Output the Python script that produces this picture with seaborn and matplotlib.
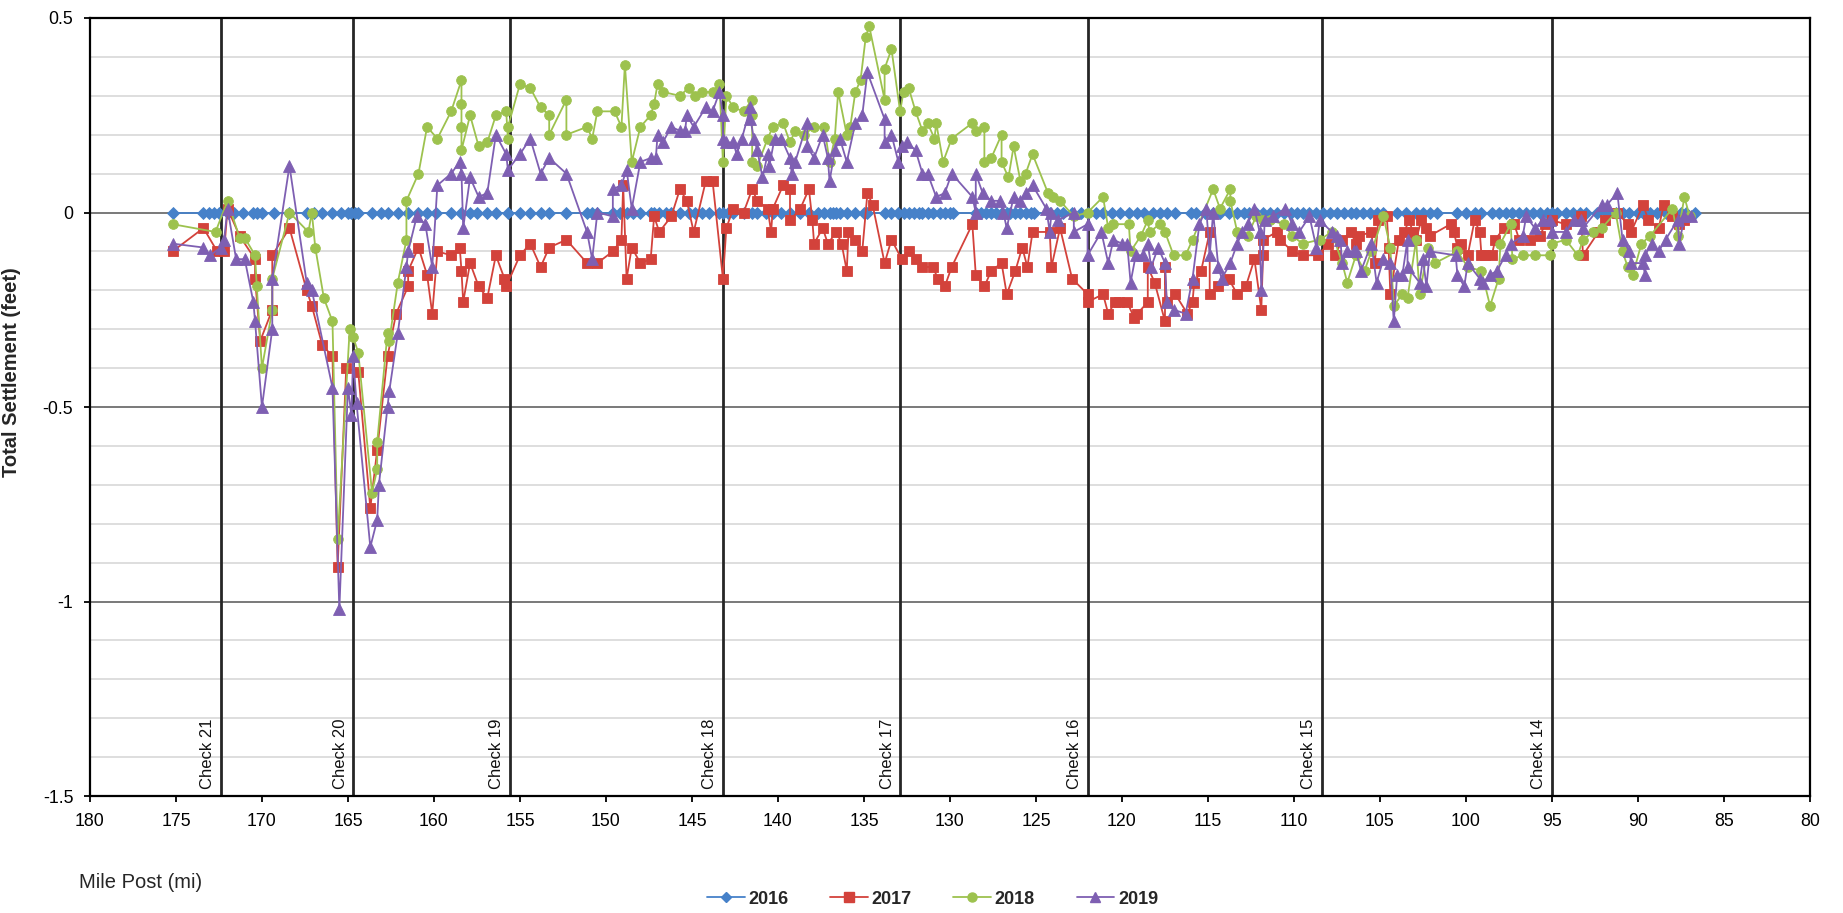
import numpy as np
import pandas as pd
import matplotlib
matplotlib.use("Agg")
import matplotlib.pyplot as plt
from matplotlib.lines import Line2D
from matplotlib.ticker import MultipleLocator, FuncFormatter
import seaborn as sns

# ---------------- data ----------------
years = ["2016", "2017", "2018", "2019"]

mile_2016 = [175.2, 173.4, 173.1, 172.8, 172.5, 172.0, 171.6, 171.1, 170.5, 170.3, 170.0, 169.3,
             168.4, 167.4, 167.0, 166.5, 165.9, 165.4, 165.0, 164.8, 164.6, 164.4, 163.6, 163.1,
             162.7, 162.1, 161.5, 160.9, 160.4, 159.9, 159.0, 158.4, 157.9, 157.5, 156.9, 156.4,
             155.7, 155.0, 154.4, 153.8, 153.3, 152.3, 151.1, 150.8, 150.5, 149.6, 149.2, 148.8,
             148.4, 148.0, 147.4, 147.2, 146.9, 146.5, 146.2, 145.7, 145.2, 144.8, 144.4, 144.0,
             143.4, 143.2, 142.9, 142.6, 142.0, 141.5, 141.2, 140.7, 140.3, 139.8, 139.3, 138.7,
             138.2, 137.7, 137.3, 137.0, 136.8, 136.6, 136.4, 136.0, 135.5, 135.0, 134.8, 133.8,
             133.4, 133.0, 132.7, 132.4, 132.1, 131.8, 131.6, 131.3, 131.0, 130.6, 130.3, 130.0,
             129.8, 128.5, 128.2, 127.9, 127.6, 127.3, 127.0, 126.7, 126.5, 126.2, 125.9, 125.6,
             125.3, 125.1, 124.2, 123.8, 123.4, 122.9, 122.4, 122.0, 121.5, 121.1, 120.6, 120.1,
             119.6, 119.1, 118.7, 118.2, 117.8, 117.4, 116.9, 116.0, 115.7, 115.2, 114.7, 114.3,
             113.8, 113.3, 112.9, 112.6, 112.2, 111.8, 111.4, 111.0, 110.6, 110.2, 109.8, 109.5,
             109.1, 108.7, 108.3, 107.9, 107.5, 107.1, 106.7, 106.4, 106.0, 105.6, 105.2, 104.8,
             104.0, 103.5, 102.9, 102.5, 102.1, 101.7, 100.5, 100.0, 99.5, 99.1, 98.5, 98.1,
             97.7, 97.3, 96.9, 96.5, 96.1, 95.7, 95.3, 95.0, 94.7, 94.2, 93.8, 93.4, 93.0, 92.4,
             91.8, 91.3, 90.9, 90.5, 90.0, 89.7, 89.3, 88.9, 88.4, 88.0, 87.5, 87.2, 86.7]
val_2016 = [0.0, 0.0, 0.0, 0.0, 0.0, 0.0, 0.0, 0.0, 0.0, 0.0, 0.0, 0.0, 0.0, 0.0, 0.0,
            0.0, 0.0, 0.0, 0.0, 0.0, 0.0, 0.0, 0.0, 0.0, 0.0, 0.0, 0.0, 0.0, 0.0, 0.0,
            0.0, 0.0, 0.0, 0.0, 0.0, 0.0, 0.0, 0.0, 0.0, 0.0, 0.0, 0.0, 0.0, 0.0, 0.0,
            0.0, 0.0, 0.0, 0.0, 0.0, 0.0, 0.0, 0.0, 0.0, 0.0, 0.0, 0.0, 0.0, 0.0, 0.0,
            0.0, 0.0, 0.0, 0.0, 0.0, 0.0, 0.0, 0.0, 0.0, 0.0, 0.0, 0.0, 0.0, 0.0, 0.0,
            0.0, 0.0, 0.0, 0.0, 0.0, 0.0, 0.0, 0.0, 0.0, 0.0, 0.0, 0.0, 0.0, 0.0, 0.0,
            0.0, 0.0, 0.0, 0.0, 0.0, 0.0, 0.0, 0.0, 0.0, 0.0, 0.0, 0.0, 0.0, 0.0, 0.0,
            0.0, 0.0, 0.0, 0.0, 0.0, 0.0, 0.0, 0.0, 0.0, 0.0, 0.0, 0.0, 0.0, 0.0, 0.0,
            0.0, 0.0, 0.0, 0.0, 0.0, 0.0, 0.0, 0.0, 0.0, 0.0, 0.0, 0.0, 0.0, 0.0, 0.0,
            0.0, 0.0, 0.0, 0.0, 0.0, 0.0, 0.0, 0.0, 0.0, 0.0, 0.0, 0.0, 0.0, 0.0, 0.0,
            0.0, 0.0, 0.0, 0.0, 0.0, 0.0, 0.0, 0.0, 0.0, 0.0, 0.0, 0.0, 0.0, 0.0, 0.0,
            0.0, 0.0, 0.0, 0.0, 0.0, 0.0, 0.0, 0.0, 0.0, 0.0, 0.0, 0.0, 0.0, 0.0, 0.0,
            0.0, 0.0, 0.0, 0.0, 0.0, 0.0, 0.0, 0.0, 0.0, 0.0, 0.0, 0.0, 0.0, 0.0, 0.0]

mile_2017 = [175.2, 173.4, 172.6, 172.2, 172.0, 171.3, 170.4, 170.4, 170.1, 169.4, 169.4, 168.4,
             167.4, 167.1, 166.5, 165.9, 165.6, 165.1, 164.4, 163.7, 163.3, 162.7, 162.2, 161.5,
             161.5, 160.9, 160.4, 160.1, 159.8, 159.0, 158.5, 158.4, 158.3, 157.9, 157.4, 156.9,
             156.4, 155.9, 155.8, 155.0, 154.4, 153.8, 153.3, 152.3, 151.1, 150.5, 149.6, 149.1,
             149.0, 148.8, 148.5, 148.0, 147.4, 147.2, 146.9, 146.2, 145.7, 145.3, 144.9, 144.2,
             143.8, 143.2, 143.0, 142.6, 142.0, 141.5, 141.2, 140.6, 140.4, 140.3, 139.7, 139.3,
             139.3, 138.7, 138.2, 138.0, 137.9, 137.4, 137.1, 136.6, 136.3, 136.0, 135.9, 135.5,
             135.1, 134.8, 134.5, 133.8, 133.4, 132.8, 132.4, 132.0, 131.6, 131.0, 130.7, 130.3,
             129.9, 128.7, 128.5, 128.0, 127.6, 127.0, 126.7, 126.2, 125.8, 125.5, 125.2, 124.2,
             124.1, 123.6, 122.9, 122.0, 122.0, 121.1, 120.8, 120.4, 120.2, 119.7, 119.3, 119.1,
             118.5, 118.5, 118.1, 117.5, 117.5, 117.4, 116.9, 116.2, 115.9, 115.8, 115.4, 114.9,
             114.9, 114.4, 113.8, 113.3, 112.8, 112.3, 111.9, 111.8, 111.8, 111.0, 110.8, 110.1,
             109.5, 108.6, 108.0, 107.6, 107.2, 106.7, 106.4, 106.2, 105.5, 105.3, 105.1, 104.6,
             104.5, 104.4, 103.9, 103.6, 103.3, 103.1, 102.9, 102.6, 102.3, 102.1, 100.9, 100.7,
             100.5, 100.3, 99.9, 99.5, 99.2, 99.1, 98.9, 98.5, 98.3, 97.8, 97.2, 96.9, 96.3,
             95.7, 95.4, 95.0, 94.2, 93.3, 93.2, 92.3, 91.9, 91.2, 90.6, 90.4, 89.7, 89.4, 88.8,
             88.5, 88.0, 87.6, 87.3]
val_2017 = [-0.10, -0.04, -0.10, -0.10, 0.01, -0.06, -0.12, -0.17, -0.33, -0.25, -0.11, -0.04,
            -0.20, -0.24, -0.34, -0.37, -0.91, -0.40, -0.41, -0.76, -0.61, -0.37, -0.26, -0.19,
            -0.15, -0.09, -0.16, -0.26, -0.10, -0.11, -0.09, -0.15, -0.23, -0.13, -0.19, -0.22,
            -0.11, -0.17, -0.19, -0.11, -0.08, -0.14, -0.09, -0.07, -0.13, -0.13, -0.10, -0.07,
            0.07, -0.17, -0.09, -0.13, -0.12, -0.01, -0.05, -0.01, 0.06, 0.03, -0.05, 0.08,
            0.08, -0.17, -0.04, 0.01, 0.00, 0.06, 0.03, 0.01, -0.05, 0.01, 0.07, 0.06,
            -0.02, 0.01, 0.06, -0.02, -0.08, -0.04, -0.08, -0.05, -0.08, -0.15, -0.05, -0.07,
            -0.10, 0.05, 0.02, -0.13, -0.07, -0.12, -0.10, -0.12, -0.14, -0.14, -0.17, -0.19,
            -0.14, -0.03, -0.16, -0.19, -0.15, -0.13, -0.21, -0.15, -0.09, -0.14, -0.05, -0.05,
            -0.14, -0.04, -0.17, -0.21, -0.23, -0.21, -0.26, -0.23, -0.23, -0.23, -0.27, -0.26,
            -0.23, -0.14, -0.18, -0.28, -0.14, -0.23, -0.21, -0.26, -0.23, -0.18, -0.15, -0.05,
            -0.21, -0.19, -0.17, -0.21, -0.19, -0.12, -0.25, -0.11, -0.07, -0.05, -0.07, -0.10,
            -0.11, -0.11, -0.08, -0.11, -0.07, -0.05, -0.08, -0.06, -0.05, -0.13, -0.02, -0.01,
            -0.09, -0.21, -0.07, -0.05, -0.02, -0.05, -0.07, -0.02, -0.04, -0.06, -0.03, -0.05,
            -0.09, -0.08, -0.11, -0.02, -0.05, -0.11, -0.11, -0.11, -0.07, -0.04, -0.03, -0.07, -0.07,
            -0.06, -0.03, -0.02, -0.03, -0.01, -0.11, -0.05, -0.02, 0.00, -0.03, -0.05, 0.02, -0.02, -0.04,
            0.02, -0.01, -0.03, -0.02]

mile_2018 = [175.2, 172.7, 172.0, 171.3, 171.0, 170.4, 170.3, 170.0, 169.4, 169.4, 168.4, 167.3,
             167.1, 166.9, 166.4, 165.9, 165.6, 164.9, 164.7, 164.4, 163.6, 163.3, 163.3, 162.7,
             162.6, 162.1, 161.6, 161.6, 160.9, 160.4, 159.8, 159.0, 158.4, 158.4, 158.4, 158.4,
             157.9, 157.4, 156.9, 156.4, 155.8, 155.7, 155.7, 155.0, 154.4, 153.8, 153.3, 153.3,
             152.3, 152.3, 151.1, 150.8, 150.5, 149.5, 149.1, 148.9, 148.5, 148.0, 147.4, 147.2,
             147.0, 146.7, 145.7, 145.2, 144.8, 144.4, 143.8, 143.4, 143.2, 143.0, 142.6, 142.0,
             141.5, 141.5, 141.5, 141.2, 140.6, 140.3, 139.7, 139.3, 139.0, 138.5, 137.9, 137.3,
             137.0, 136.7, 136.5, 136.0, 135.8, 135.5, 135.2, 134.9, 134.7, 133.8, 133.8, 133.4,
             132.9, 132.7, 132.4, 132.0, 131.6, 131.3, 130.9, 130.8, 130.4, 129.9, 128.7, 128.5,
             128.0, 128.0, 127.6, 127.0, 127.0, 126.6, 126.3, 125.9, 125.6, 125.2, 124.3, 124.0,
             123.6, 122.8, 122.0, 121.1, 120.8, 120.5, 119.6, 119.5, 118.9, 118.5, 118.4, 117.8,
             117.5, 117.0, 116.3, 115.9, 114.7, 114.3, 113.7, 113.7, 113.3, 112.7, 112.2, 111.8,
             111.4, 110.6, 110.1, 109.5, 108.5, 107.8, 107.2, 106.9, 106.4, 105.9, 105.5, 104.8,
             104.4, 104.2, 103.7, 103.4, 102.9, 102.7, 102.2, 101.8, 100.5, 99.9, 99.1, 98.6,
             98.1, 98.0, 97.4, 97.3, 96.7, 96.0, 95.1, 95.0, 94.2, 93.5, 93.2, 92.6, 92.1, 91.3,
             90.9, 90.6, 90.3, 89.8, 89.3, 88.0, 87.7, 87.3, 87.0]
val_2018 = [-0.03, -0.05, 0.03, -0.065, -0.065, -0.11, -0.19, -0.40, -0.25, -0.17, 0.00, -0.05,
            0.00, -0.09, -0.22, -0.28, -0.84, -0.30, -0.32, -0.36, -0.72, -0.66, -0.59, -0.31,
            -0.33, -0.18, -0.07, 0.03, 0.10, 0.22, 0.19, 0.26, 0.34, 0.28, 0.22, 0.16,
            0.25, 0.17, 0.18, 0.25, 0.26, 0.19, 0.22, 0.33, 0.32, 0.27, 0.25, 0.20,
            0.29, 0.20, 0.22, 0.19, 0.26, 0.26, 0.22, 0.38, 0.13, 0.22, 0.25, 0.28,
            0.33, 0.31, 0.30, 0.32, 0.30, 0.31, 0.31, 0.33, 0.13, 0.30, 0.27, 0.26,
            0.29, 0.25, 0.13, 0.12, 0.19, 0.22, 0.23, 0.18, 0.21, 0.20, 0.22, 0.22,
            0.13, 0.19, 0.31, 0.20, 0.22, 0.31, 0.34, 0.45, 0.48, 0.29, 0.37, 0.42,
            0.26, 0.31, 0.32, 0.26, 0.21, 0.23, 0.19, 0.23, 0.13, 0.19, 0.23, 0.21,
            0.22, 0.13, 0.14, 0.20, 0.13, 0.09, 0.17, 0.08, 0.10, 0.15, 0.05, 0.04,
            0.03, -0.01, 0.00, 0.04, -0.04, -0.03, -0.03, -0.10, -0.06, -0.02, -0.05, -0.03,
            -0.05, -0.11, -0.11, -0.07, 0.06, 0.01, 0.06, 0.03, -0.05, -0.06, -0.01, -0.02,
            -0.02, -0.03, -0.06, -0.08, -0.07, -0.05, -0.13, -0.18, -0.11, -0.15, -0.10, -0.01,
            -0.09, -0.24, -0.21, -0.22, -0.07, -0.21, -0.09, -0.13, -0.10, -0.14, -0.15, -0.24,
            -0.17, -0.08, -0.03, -0.12, -0.11, -0.11, -0.11, -0.08, -0.07, -0.11, -0.07, -0.05, -0.04, 0.00,
            -0.10, -0.14, -0.16, -0.08, -0.06, 0.01, -0.06, 0.04, -0.01]

mile_2019 = [175.2, 173.4, 173.0, 172.4, 172.2, 172.0, 171.5, 171.0, 170.5, 170.4, 170.0, 169.4,
             169.4, 168.4, 167.4, 167.1, 165.9, 165.5, 165.0, 164.8, 164.7, 164.5, 163.7, 163.3,
             163.2, 162.7, 162.6, 162.1, 161.6, 161.5, 161.0, 160.5, 160.1, 159.8, 159.0, 158.5,
             158.4, 158.3, 157.9, 157.4, 156.9, 156.4, 155.8, 155.7, 155.0, 154.4, 153.8, 153.3,
             152.3, 151.1, 150.8, 150.5, 149.6, 149.6, 149.1, 148.8, 148.5, 148.0, 147.4, 147.1,
             147.0, 146.7, 146.2, 145.7, 145.4, 145.3, 144.9, 144.2, 143.8, 143.4, 143.2, 143.2,
             143.0, 142.6, 142.4, 142.1, 141.6, 141.6, 141.4, 141.2, 140.9, 140.6, 140.5, 140.2,
             139.8, 139.3, 139.2, 139.0, 138.3, 138.3, 137.9, 137.4, 137.1, 137.0, 136.7, 136.4,
             136.0, 135.5, 135.1, 134.8, 133.8, 133.8, 133.4, 133.0, 132.8, 132.5, 132.0, 131.6,
             131.3, 130.8, 130.3, 129.9, 128.7, 128.5, 128.5, 128.1, 127.6, 127.1, 126.9, 126.7,
             126.3, 125.9, 125.6, 125.2, 124.4, 124.2, 124.1, 123.7, 122.8, 122.8, 122.0, 122.0,
             121.2, 120.8, 120.5, 120.0, 119.7, 119.5, 119.2, 118.8, 118.5, 118.3, 117.9, 117.5,
             117.4, 117.0, 116.3, 115.9, 115.5, 115.1, 114.9, 114.7, 114.4, 114.2, 113.7, 113.3,
             113.0, 112.7, 112.3, 112.0, 111.9, 111.7, 111.2, 110.5, 110.1, 109.7, 109.1, 108.7,
             108.5, 107.8, 107.5, 107.3, 107.2, 106.9, 106.5, 106.4, 106.1, 105.5, 105.2, 104.8,
             104.4, 104.2, 104.0, 103.7, 103.4, 103.4, 102.7, 102.5, 102.3, 102.1, 100.6, 100.5,
             100.1, 99.9, 99.2, 99.0, 98.6, 98.2, 97.7, 97.4, 96.7, 96.5, 96.0, 95.5, 95.1, 95.0,
             94.2, 93.7, 93.3, 93.2, 92.1, 91.8, 91.2, 90.9, 90.5, 90.4, 89.7, 89.6, 89.6, 89.2,
             88.8, 88.4, 87.7, 87.6, 87.3, 86.9]
val_2019 = [-0.08, -0.09, -0.11, -0.09, -0.07, 0.01, -0.12, -0.12, -0.23, -0.28, -0.50, -0.30,
            -0.17, 0.12, -0.18, -0.20, -0.45, -1.02, -0.45, -0.52, -0.37, -0.49, -0.86, -0.79,
            -0.70, -0.50, -0.46, -0.31, -0.14, -0.10, -0.01, -0.03, -0.14, 0.07, 0.10, 0.13,
            0.10, -0.04, 0.09, 0.04, 0.05, 0.20, 0.15, 0.11, 0.15, 0.19, 0.10, 0.14,
            0.10, -0.05, -0.12, 0.00, -0.01, 0.06, 0.07, 0.11, 0.01, 0.13, 0.14, 0.14,
            0.20, 0.18, 0.22, 0.21, 0.21, 0.25, 0.22, 0.27, 0.26, 0.31, 0.25, 0.19,
            0.18, 0.18, 0.15, 0.19, 0.27, 0.24, 0.19, 0.16, 0.09, 0.15, 0.12, 0.19,
            0.19, 0.14, 0.10, 0.13, 0.23, 0.17, 0.14, 0.20, 0.14, 0.08, 0.16, 0.19,
            0.13, 0.23, 0.25, 0.36, 0.24, 0.18, 0.20, 0.13, 0.17, 0.18, 0.16, 0.10,
            0.10, 0.04, 0.05, 0.10, 0.04, 0.00, 0.10, 0.05, 0.03, 0.03, 0.00, -0.04,
            0.04, 0.03, 0.05, 0.07, 0.01, -0.05, 0.00, -0.02, 0.00, -0.05, -0.03, -0.11,
            -0.05, -0.13, -0.07, -0.08, -0.08, -0.18, -0.11, -0.11, -0.08, -0.14, -0.09, -0.13,
            -0.23, -0.25, -0.26, -0.17, -0.03, 0.01, -0.11, 0.00, -0.14, -0.17, -0.13, -0.08,
            -0.05, -0.03, 0.01, -0.05, -0.20, -0.02, -0.01, 0.01, -0.03, -0.05, -0.01, -0.09,
            -0.02, -0.05, -0.06, -0.07, -0.13, -0.10, -0.10, -0.10, -0.15, -0.08, -0.18, -0.12,
            -0.13, -0.28, -0.16, -0.16, -0.07, -0.14, -0.18, -0.12, -0.19, -0.10, -0.11, -0.16,
            -0.19, -0.13, -0.17, -0.18, -0.16, -0.15, -0.11, -0.08, -0.06, -0.01, -0.04, -0.02, -0.02, -0.05,
            -0.05, -0.02, -0.02, -0.04, 0.02, 0.02, 0.05, -0.07, -0.10, -0.13, -0.13, -0.16, -0.11, -0.08,
            -0.10, -0.07, -0.02, -0.08, -0.01, -0.01]

check_names = ["Check 21", "Check 20", "Check 19", "Check 18", "Check 17",
               "Check 16", "Check 15", "Check 14"]
check_miles = [172.4, 164.7, 155.6, 143.2, 132.9, 122.0, 108.4, 95.0]

# ---------------- style ----------------
sns.set_style("white")
plt.rcParams["font.family"] = ["Liberation Sans", "DejaVu Sans"]
plt.rcParams["axes.unicode_minus"] = False

colors = {"2016": "#4681C9", "2017": "#D3423B", "2018": "#9DC24E", "2019": "#7E5FB2"}
markers = {"2016": "D", "2017": "s", "2018": "o", "2019": "^"}
msizes = {"2016": 5.8, "2017": 7.0, "2018": 7.0, "2019": 8.0}

series = {
    "2016": (mile_2016, val_2016),
    "2017": (mile_2017, val_2017),
    "2018": (mile_2018, val_2018),
    "2019": (mile_2019, val_2019),
}
frames = []
for yr in years:
    m, v = series[yr]
    frames.append(pd.DataFrame({"mile": m, "settlement": v, "year": yr}))
df = pd.concat(frames, ignore_index=True)

fig = plt.figure(figsize=(18.43, 9.13), dpi=100)
ax = fig.add_axes([0.0488, 0.1281, 0.9333, 0.8522])

# grid
ax.set_ylim(-1.5, 0.5)
ax.set_xlim(180, 80)
ax.yaxis.set_major_locator(MultipleLocator(0.5))
ax.yaxis.set_minor_locator(MultipleLocator(0.1))
ax.xaxis.set_major_locator(MultipleLocator(5))
ax.grid(which="minor", axis="y", color="#d4d4d4", linewidth=1.1)
ax.grid(which="major", axis="y", color="#6e6e6e", linewidth=1.3)
ax.grid(False, axis="x")
ax.set_axisbelow(True)

# check lines
for name, cm in zip(check_names, check_miles):
    ax.axvline(cm, color="#262626", linewidth=2.0, zorder=1.5)
    ax.annotate(name, xy=(cm, -1.5), xytext=(-4, 5), textcoords="offset points",
                rotation=90, ha="right", va="bottom", fontsize=12, color="#111111")

for yr in years:
    sub = df[df["year"] == yr]
    sns.lineplot(data=sub, x="mile", y="settlement", sort=False, estimator=None,
                 color=colors[yr], marker=markers[yr], markersize=msizes[yr],
                 markeredgewidth=0.6, markeredgecolor=colors[yr],
                 linewidth=1.3, ax=ax, label=yr, zorder=3)

leg0 = ax.get_legend()
if leg0 is not None:
    leg0.remove()

for s in ax.spines.values():
    s.set_color("black")
    s.set_linewidth(1.6)

ax.tick_params(axis="both", which="major", direction="out", length=4, width=1.3,
               color="black", labelsize=12.8, labelcolor="black")
ax.tick_params(axis="x", pad=8)
ax.tick_params(axis="y", pad=8, left=True)
ax.tick_params(axis="x", bottom=True)
ax.tick_params(which="minor", length=0)
ax.yaxis.set_major_formatter(FuncFormatter(lambda v, p: f"{v:g}"))
ax.xaxis.set_major_formatter(FuncFormatter(lambda v, p: f"{v:g}"))

ax.set_ylabel("Total Settlement (feet)", fontsize=14.5, fontweight="bold")
ax.yaxis.set_label_coords(-0.040, 0.545)
ax.set_xlabel("Mile Post (mi)", fontsize=14.5, loc="left")
ax.xaxis.set_label_coords(-0.0064, -0.099)

handles = [Line2D([0], [0], color=colors[yr], marker=markers[yr], markersize=msizes[yr] - 0.5,
                  markeredgecolor=colors[yr], linewidth=1.3) for yr in years]
fig.legend(handles, years, loc="center", bbox_to_anchor=(0.506, 0.015), ncol=4,
           frameon=False, prop={"weight": "bold", "size": 13}, handlelength=2.1,
           columnspacing=2.3, handletextpad=0.2)

fig.savefig("out.png", dpi=100, facecolor="white")
